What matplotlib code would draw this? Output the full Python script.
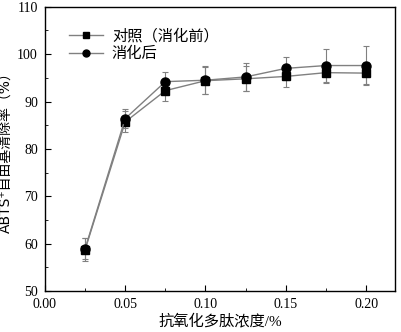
import matplotlib.pyplot as plt
from matplotlib.lines import Line2D
from matplotlib.ticker import MultipleLocator, FormatStrFormatter

plt.rcParams['font.family'] = ['Liberation Serif', 'Noto Sans CJK SC']

# data
conc = [0.025, 0.05, 0.075, 0.10, 0.125, 0.15, 0.175, 0.20]
before = [58.7, 85.7, 92.3, 94.4, 94.8, 95.3, 96.1, 96.0]
before_err = [2.4, 2.2, 2.1, 2.8, 2.6, 2.2, 2.1, 2.4]
after = [58.9, 86.4, 94.2, 94.5, 95.2, 97.0, 97.6, 97.6]
after_err = [2.2, 2.0, 2.0, 3.0, 3.0, 2.5, 3.5, 4.1]
labels = ['对照（消化前）', '消化后']

fig = plt.figure(figsize=(4.01, 3.32), dpi=100)
ax = fig.add_axes([0.112, 0.1235, 0.873, 0.856])

ax.errorbar(conc, before, yerr=before_err, color='#808080', lw=1,
            marker='s', ms=6, mfc='black', mec='black',
            ecolor='#808080', elinewidth=0.8, capsize=2.5, capthick=0.8)
ax.errorbar(conc, after, yerr=after_err, color='#808080', lw=1,
            marker='o', ms=6.5, mfc='black', mec='black',
            ecolor='#808080', elinewidth=0.8, capsize=2.5, capthick=0.8)

ax.set_xlim(0, 0.218)
ax.set_ylim(50, 110)
ax.xaxis.set_major_locator(MultipleLocator(0.05))
ax.xaxis.set_minor_locator(MultipleLocator(0.025))
ax.yaxis.set_major_locator(MultipleLocator(10))
ax.yaxis.set_minor_locator(MultipleLocator(5))
ax.xaxis.set_major_formatter(FormatStrFormatter('%.2f'))
ax.tick_params(which='both', direction='in', labelsize=10)
ax.tick_params(which='major', length=4, pad=5)
ax.tick_params(which='minor', length=2)

for s in ax.spines.values():
    s.set_linewidth(1)

ax.set_xlabel('抗氧化多肽浓度/%', fontsize=11, labelpad=2)
ax.set_ylabel('ABTS⁺自由基清除率（%）', fontsize=10, labelpad=3,
              family=['DejaVu Sans', 'Noto Sans CJK SC'])

handles = [Line2D([], [], color='#808080', lw=1, marker='s', ms=5, mfc='black', mec='black'),
           Line2D([], [], color='#808080', lw=1, marker='o', ms=5, mfc='black', mec='black')]
ax.legend(handles, labels, loc='upper left', frameon=False, bbox_to_anchor=(0.03, 0.975),
          handlelength=2.2, labelspacing=0.05, handletextpad=0.6,
          prop={'family': ['Noto Sans CJK SC'], 'size': 11})

fig.savefig('out.png', dpi=100)
